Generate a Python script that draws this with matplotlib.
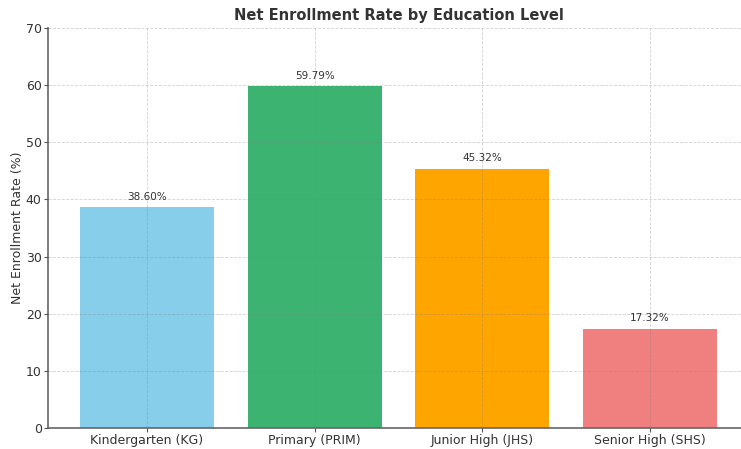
import matplotlib
matplotlib.use("Agg")
import matplotlib.pyplot as plt

# data
levels = ["Kindergarten (KG)", "Primary (PRIM)", "Junior High (JHS)", "Senior High (SHS)"]
rates = [38.60, 59.79, 45.32, 17.32]
colors = ["skyblue", "mediumseagreen", "orange", "lightcoral"]

fig = plt.figure(figsize=(7.41, 4.49), dpi=100)
ax = fig.add_axes([48 / 741, 21 / 449, 701 / 741, 400 / 449])

bars = ax.bar(levels, rates, color=colors, width=0.8)

for b, r in zip(bars, rates):
    ax.text(b.get_x() + b.get_width() / 2, r + 1, f"{r:.2f}%",
            ha="center", va="bottom", fontsize=7.5, color="#333333")

ax.set_ylim(0, 70)
ax.set_xlim(-0.59, 3.59)
ax.set_title("Net Enrollment Rate by Education Level", fontsize=10.5,
             fontweight="bold", color="#333333")
ax.set_ylabel("Net Enrollment Rate (%)", fontsize=9, color="#333333", labelpad=1.5)
ax.tick_params(labelsize=9, colors="#333333")
ax.tick_params(axis="both", color="#555555", length=3, pad=1.5)

ax.grid(True, linestyle="--", linewidth=0.6, color="gray", alpha=0.35)
ax.set_axisbelow(False)
for s in ["top", "right"]:
    ax.spines[s].set_visible(False)
for s in ["left", "bottom"]:
    ax.spines[s].set_color("#666666")
    ax.spines[s].set_linewidth(1.2)

fig.savefig("out.png", dpi=100)
